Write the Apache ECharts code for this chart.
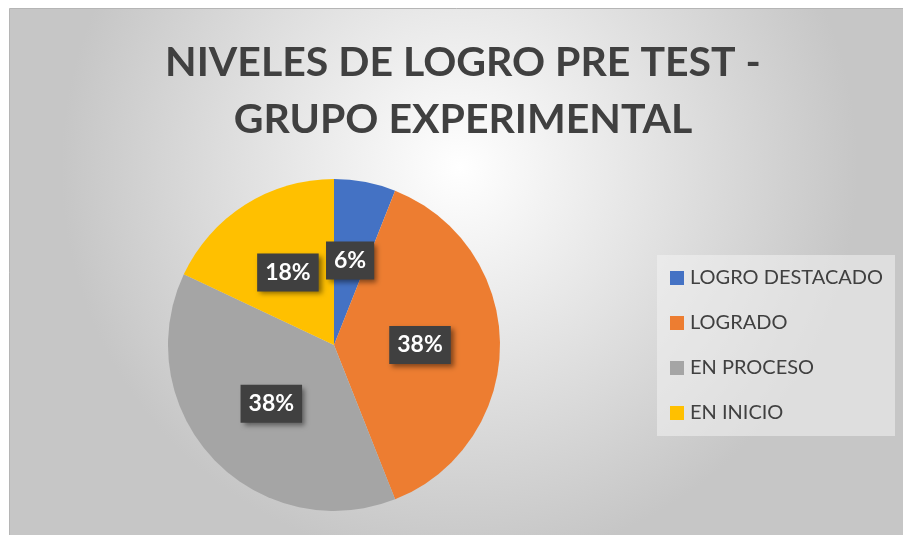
<!DOCTYPE html>
<html>
<head>
<meta charset="utf-8">
<script src="https://cdn.jsdelivr.net/npm/echarts@6/dist/echarts.min.js"></script>
<style>
html,body{margin:0;padding:0;background:#fff;}
#chart{width:903px;height:535px;}
</style>
</head>
<body>
<div id="chart"></div>
<script>
const titleText = 'NIVELES DE LOGRO PRE TEST -\nGRUPO EXPERIMENTAL';
const categories = ['LOGRO DESTACADO', 'LOGRADO', 'EN PROCESO', 'EN INICIO'];
const values = [6, 38, 38, 18];
const colors = ['#4472C4', '#ED7D31', '#A5A5A5', '#FFC000'];

const chart = echarts.init(document.getElementById('chart'), null, {renderer: 'canvas'});
const option = {
  animation: false,
  backgroundColor: '#ffffff',
  graphic: [{
    type: 'rect',
    z: -10,
    silent: true,
    shape: {x: 9.5, y: 8.5, width: 900, height: 530},
    style: {
      fill: new echarts.graphic.RadialGradient(0.5, 0.3, 0.75, [
        {offset: 0, color: '#ffffff'},
        {offset: 1, color: '#c6c6c6'}
      ]),
      stroke: '#b5b5b5',
      lineWidth: 1
    }
  }],
  title: {
    text: titleText,
    left: 458,
    top: 29,
    textAlign: 'center',
    textStyle: {
      fontFamily: 'Lato',
      fontWeight: 'bold',
      fontSize: 41,
      lineHeight: 57,
      color: '#404040'
    }
  },
  legend: {
    orient: 'vertical',
    left: 657,
    top: 255,
    padding: [13, 12, 13, 13],
    itemGap: 25,
    itemWidth: 14,
    itemHeight: 14,
    icon: 'rect',
    backgroundColor: 'rgba(242,242,242,0.55)',
    data: categories,
    textStyle: {
      fontFamily: 'Lato',
      fontSize: 20,
      lineHeight: 20,
      color: '#404040',
      padding: [0, 0, 0, 1]
    }
  },
  series: [{
    type: 'pie',
    center: [334, 345],
    radius: [0, 166],
    startAngle: 90,
    clockwise: true,
    avoidLabelOverlap: false,
    data: categories.map((c, i) => ({name: c, value: values[i], itemStyle: {color: colors[i]}})),
    label: {
      show: true,
      position: 'inside',
      formatter: p => p.value + '%',
      fontFamily: 'Lato',
      fontWeight: 'bold',
      fontSize: 23,
      color: '#ffffff',
      backgroundColor: '#404040',
      padding: [8, 8, 7, 8],
      shadowColor: 'rgba(0,0,0,0.45)',
      shadowBlur: 5,
      shadowOffsetX: 3,
      shadowOffsetY: 3
    },
    labelLine: {show: false},
    emphasis: {disabled: true}
  }]
};
chart.setOption(option);
</script>
</body>
</html>
